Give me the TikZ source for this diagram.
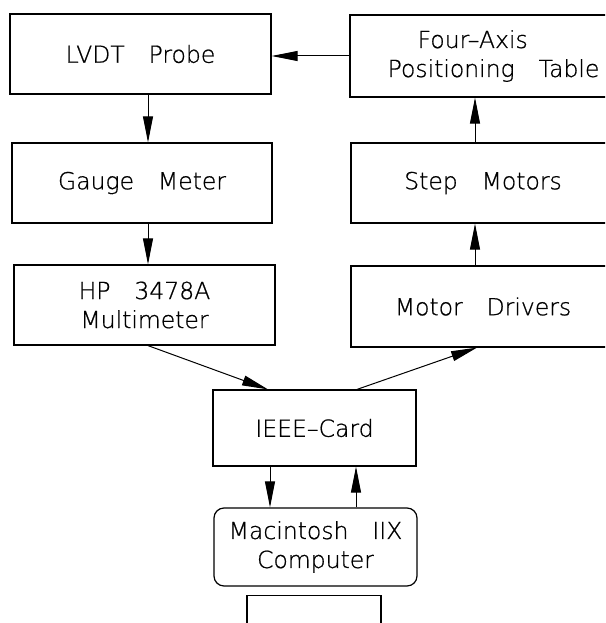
\documentclass[tikz,border=0pt]{standalone}
\usepackage{fontspec}
\setmainfont{DejaVu Sans ExtraLight}[WordSpace=3.2,FakeBold=0.8]
\usetikzlibrary{arrows.meta}
\begin{document}
\begin{tikzpicture}[x=1pt,y=-1pt,
  box/.style={draw,line width=1.2pt,rectangle,inner sep=0pt,
    font=\fontsize{23.5}{29}\selectfont,align=center},
  arr/.style={line width=1pt,-{Triangle[length=26pt,width=10pt]}},
]
\useasboundingbox (0,0) rectangle (605,623);
\clip (0,0) rectangle (605,623);
\node[box,minimum width=261pt,minimum height=80pt] (lvdt) at (140.5,54) {LVDT Probe};
\node[box,minimum width=265pt,minimum height=82pt,align=left] (four) at (482.5,56) {\hspace*{30pt}Four–Axis\\Positioning Table\hspace*{-22pt}};
\node[box,minimum width=260pt,minimum height=80pt] (gauge) at (142,183) {Gauge Meter};
\node[box,minimum width=264pt,minimum height=80pt] (step) at (483,183) {Step Motors};
\node[box,minimum width=261pt,minimum height=80pt] (hp) at (144.5,305) {HP 3478A\\Multimeter};
\node[box,minimum width=264pt,minimum height=81pt] (motor) at (483,306.5) {Motor Drivers};
\node[box,minimum width=203pt,minimum height=76pt] (ieee) at (314.5,428) {IEEE–Card};
\node[box,minimum width=203pt,minimum height=78pt,rounded corners=10pt] (mac) at (315.5,547) {Macintosh IIX\\Computer};
\node[box,minimum width=134pt,minimum height=60pt,anchor=north] (term) at (314,595) {};
\coordinate (xL) at (148,0);
\coordinate (xR) at (475,0);
\coordinate (xA) at (268,0);
\coordinate (xB) at (357,0);
\coordinate (xC) at (477,0);
\coordinate (xD) at (270,0);
\coordinate (xE) at (356,0);
\draw[arr] (four.west) -- (lvdt.east |- four.west);
\draw[arr] (lvdt.south -| xL) -- (gauge.north -| xL);
\draw[arr] (gauge.south -| xL) -- (hp.north -| xL);
\draw[arr] (motor.north -| xR) -- (step.south -| xR);
\draw[arr] (step.north -| xR) -- (four.south -| xR);
\draw[arr] (hp.south -| xL) -- (ieee.north -| xA);
\draw[arr] (ieee.north -| xB) -- (motor.south -| xC);
\draw[arr] (ieee.south -| xD) -- (mac.north -| xD);
\draw[arr] (mac.north -| xE) -- (ieee.south -| xE);
\end{tikzpicture}
\end{document}
